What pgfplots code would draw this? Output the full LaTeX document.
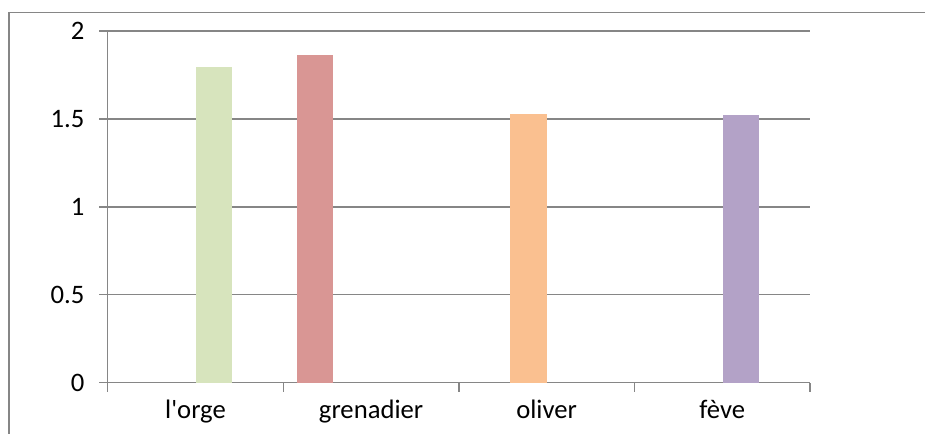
\documentclass[border=0pt]{standalone}
\usepackage{pgfplots}
\pgfplotsset{compat=1.18}
\usepackage{fontspec}
\setmainfont{Carlito}
\definecolor{gridgray}{HTML}{868686}
\definecolor{cgreen}{HTML}{D7E4BD}
\definecolor{cred}{HTML}{D99694}
\definecolor{corange}{HTML}{FAC090}
\definecolor{cpurple}{HTML}{B3A2C7}
\begin{document}
\begin{tikzpicture}
% page = 925x433 px, 1 px = 0.75pt
\path[use as bounding box] (0,0) rectangle (693.75pt,324.75pt);
\draw[gridgray, line width=0.9pt] (6.75pt,-20pt) -- (6.75pt,315.2pt) -- (720pt,315.2pt);
\begin{axis}[
    at={(80.8pt,37.7pt)}, anchor=south west,
    scale only axis,
    width=526.7pt, height=263.8pt,
    xmin=0, xmax=4, ymin=0, ymax=2,
    axis x line*=bottom, axis y line*=left,
    axis line style={gridgray, line width=1pt},
    ytick={0,0.5,1,1.5,2},
    yticklabels={0,0.5,1,1.5,2},
    xtick={0.5,1.5,2.5,3.5},
    xticklabels={l\textquotesingle orge, grenadier, oliver, fève},
    minor xtick={0,1,2,3,4},
    major x tick style={draw=none},
    tick style={gridgray, line width=1pt},
    tick align=outside,
    major tick length=6.5pt,
    minor tick length=6.75pt,
    ymajorgrids,
    grid style={gridgray, line width=1pt},
    ticklabel style={font=\fontsize{20}{24}\selectfont},
    yticklabel style={xshift=-7.5pt},
    xticklabel style={yshift=-3pt},
]
\addplot[ybar, bar shift=0pt, bar width=0.209, fill=cgreen, draw=none] coordinates {(0.605,1.795)};
\addplot[ybar, bar shift=0pt, bar width=0.209, fill=cred, draw=none] coordinates {(1.181,1.863)};
\addplot[ybar, bar shift=0pt, bar width=0.209, fill=corange, draw=none] coordinates {(2.395,1.528)};
\addplot[ybar, bar shift=0pt, bar width=0.209, fill=cpurple, draw=none] coordinates {(3.607,1.522)};
\end{axis}
\end{tikzpicture}
\end{document}
